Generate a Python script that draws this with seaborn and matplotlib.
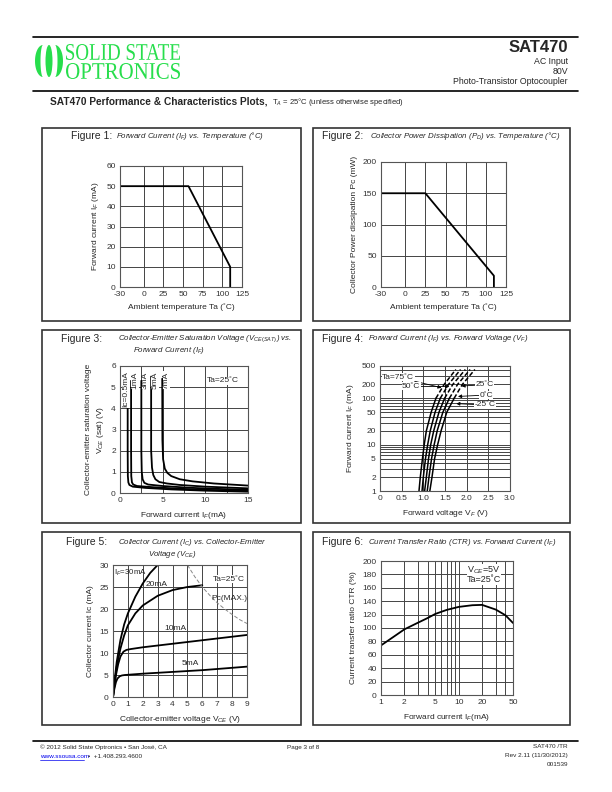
import numpy as np
import pandas as pd
import seaborn as sns
import matplotlib.pyplot as plt
from matplotlib.patches import Rectangle, Polygon, PathPatch, Ellipse
from matplotlib.textpath import TextPath
from matplotlib.font_manager import FontProperties
from matplotlib.transforms import Affine2D
from matplotlib.ticker import NullFormatter, LogLocator, MultipleLocator

W, H = 612, 792
GREEN = "#27DE4C"

# ---------------- data ----------------
# Figure 1: forward current derating
fig1_temp = [-30, 57, 110, 110]
fig1_if = [50, 50, 10, 0]

# Figure 2: collector power dissipation derating
fig2_temp = [-30, 25, 110, 110]
fig2_pc = [150, 150, 18, 0]

# Figure 3: Vce(sat) vs forward current, one curve per collector current
fig3_labels = ["Ic=0.5mA", "1mA", "3mA", "5mA", "7mA"]
fig3_if = [
    [0.9, 0.9, 0.92, 0.98, 1.1, 1.5, 3, 6, 10, 15],
    [1.3, 1.3, 1.32, 1.4, 1.55, 2, 4, 7, 10, 15],
    [2.5, 2.5, 2.55, 2.65, 2.85, 3.3, 5, 8, 11, 15],
    [3.65, 3.65, 3.75, 3.9, 4.15, 4.6, 5.5, 7, 10, 15],
    [4.95, 4.97, 5.05, 5.25, 5.55, 6, 7, 8.5, 11, 15],
]
fig3_vce = [
    [5.3, 2, 0.8, 0.5, 0.38, 0.3, 0.24, 0.17, 0.11, 0.06],
    [5.3, 2, 0.8, 0.5, 0.4, 0.33, 0.27, 0.2, 0.15, 0.1],
    [5.3, 2, 1.0, 0.65, 0.48, 0.4, 0.33, 0.25, 0.2, 0.15],
    [5.5, 2, 1.2, 0.85, 0.65, 0.52, 0.45, 0.38, 0.3, 0.22],
    [5.4, 2.5, 1.6, 1.15, 0.95, 0.8, 0.65, 0.55, 0.45, 0.35],
]
fig3_label_x = [0.7, 1.75, 3.0, 4.15, 5.45]

# Figure 4: forward current vs forward voltage, per ambient temperature
fig4_if = [1, 2, 5, 10, 20, 50, 100, 200, 420]
fig4_vf = {
    "75": [0.90, 0.93, 0.98, 1.02, 1.07, 1.18, 1.29, 1.48, 1.75],
    "50": [0.97, 1.00, 1.05, 1.10, 1.16, 1.27, 1.39, 1.58, 1.86],
    "25": [1.03, 1.07, 1.12, 1.17, 1.24, 1.36, 1.49, 1.68, 1.97],
    "0": [1.09, 1.13, 1.19, 1.25, 1.32, 1.45, 1.60, 1.79, 2.08],
    "-25": [1.15, 1.20, 1.26, 1.33, 1.41, 1.54, 1.71, 1.90, 2.19],
}
fig4_solid_n = 7  # points up to 100 mA are drawn solid, the rest dashed

# Figure 5: collector current vs collector-emitter voltage
fig5_curves = {
    "30mA": ([0, 0.1, 0.25, 0.5, 0.75, 1.0, 1.5, 2.0, 2.5, 3.0],
             [0, 3.5, 8, 13, 16.5, 19, 22.8, 25.8, 28.2, 30]),
    "20mA": ([0, 0.1, 0.25, 0.5, 0.75, 1.0, 1.5, 2.0, 3.0, 4.0, 5.0, 6.0],
             [0, 3, 7, 11, 14, 16.3, 19, 20.8, 23, 24.3, 25, 25.4]),
    "10mA": ([0, 0.1, 0.2, 0.35, 0.5, 0.7, 0.9, 1.2, 2, 3, 5, 7, 9],
             [0, 2.5, 5, 7.5, 9.2, 10.3, 10.7, 10.9, 11.3, 11.7, 12.5, 13.3, 14.1]),
    "5mA": ([0, 0.1, 0.2, 0.3, 0.45, 0.6, 0.8, 1.0, 2, 4, 6, 9],
            [0, 2, 3.4, 4.2, 4.7, 4.9, 5.0, 5.05, 5.3, 5.7, 6.1, 6.9]),
}
fig5_pcmax_v = [5, 5.5, 6, 6.5, 7, 7.5, 8, 8.5, 9]
fig5_pcmax_ic = [30, 27.3, 25, 23.1, 21.4, 20, 18.75, 17.6, 16.7]

# Figure 6: CTR vs forward current
fig6_if = [1, 1.5, 2, 3, 4, 5, 7, 10, 15, 20, 30, 40, 50]
fig6_ctr = [74, 88, 98, 108, 115, 121, 127, 131.5, 134, 134.5, 127.5, 119, 107.5]

# ---------------- page setup ----------------
sns.set_style("white")
plt.rcParams["font.family"] = ["Liberation Sans", "DejaVu Sans"]
plt.rcParams["axes.unicode_minus"] = False
plt.rcParams["mathtext.fontset"] = "custom"
plt.rcParams["mathtext.rm"] = "Liberation Sans"
plt.rcParams["mathtext.it"] = "Liberation Sans:italic"
plt.rcParams["mathtext.bf"] = "Liberation Sans:bold"

fig = plt.figure(figsize=(6.12, 7.92), dpi=100)
page = fig.add_axes([0, 0, 1, 1], zorder=0)
page.set_xlim(0, W)
page.set_ylim(H, 0)
page.axis("off")


def px_axes(x0, y0, x1, y1):
    ax = fig.add_axes([x0 / W, 1 - y1 / H, (x1 - x0) / W, (y1 - y0) / H], zorder=2)
    ax.tick_params(length=0, labelsize=6, pad=3, colors="#333")
    for s in ax.spines.values():
        s.set_color("#555")
        s.set_linewidth(0.8)
    ax.grid(True, which="both", color="#444", lw=0.7)
    ax.set_axisbelow(True)
    return ax


def line(ax, x, y, **kw):
    opts = dict(color="black", lw=1.3, sort=False, estimator=None, ax=ax)
    opts.update(kw)
    sns.lineplot(x=x, y=y, **opts)


# header
page.plot([33, 578], [37, 37], color="black", lw=1.2)
page.plot([33, 578], [91, 91], color="black", lw=1.2)


def crescent(cx, cy, rx_out, rx_in, ry, side):
    t = np.linspace(-np.pi / 2, np.pi / 2, 40)
    outer = np.c_[cx + side * rx_out * np.cos(t), cy + ry * np.sin(t)]
    inner = np.c_[cx + side * rx_in * np.cos(t[::-1]), cy + ry * np.sin(t[::-1])]
    page.add_patch(Polygon(np.r_[outer, inner], fc=GREEN, ec="none"))


crescent(43, 61, 8, 2.5, 16, -1)
page.add_patch(Ellipse((49, 61), 7, 32, fc=GREEN, ec="none"))
crescent(55, 61, 8, 2.5, 16, 1)


def logo_text(s, x0, x1, ytop, ybot):
    tp = TextPath((0, 0), s, size=10, prop=FontProperties(family="Liberation Serif"))
    ext = tp.get_extents()
    tr = (Affine2D().translate(-ext.x0, -ext.y0)
          .scale((x1 - x0) / ext.width, -(ybot - ytop) / ext.height)
          .translate(x0, ybot))
    page.add_patch(PathPatch(tr.transform_path(tp), fc=GREEN, ec="none"))


logo_text("SOLID STATE", 66, 180, 44, 60)
logo_text("OPTRONICS", 66, 180, 63, 79)

page.text(568, 47, "SAT470", fontsize=12, fontweight="bold", ha="right", va="center")
page.text(568, 61, "AC Input", fontsize=6.3, ha="right", va="center")
page.text(568, 71, "80V", fontsize=6.3, ha="right", va="center")
page.text(568, 81, "Photo-Transistor Optocoupler", fontsize=6.3, ha="right", va="center")
page.text(50, 102, "SAT470 Performance & Characteristics Plots,", fontsize=7.3,
          fontweight="bold", ha="left", va="center")
page.text(272, 102.5, "T$_A$ = 25°C (unless otherwise specified)", fontsize=5.5,
          ha="left", va="center")

# panel frames
for bx, by in [(42, 128), (313, 128), (42, 330), (313, 330), (42, 532), (313, 532)]:
    page.add_patch(Rectangle((bx, by), 259 if bx < 300 else 257, 193,
                             fc="none", ec="#333", lw=1.2))


def panel_title(x, y, num, sub, sub_x, second=None, second_x=None):
    page.text(x, y, f"Figure {num}:", fontsize=7.5, ha="left", va="center")
    page.text(sub_x, y, sub, fontsize=5.7, style="italic", ha="left", va="center")
    if second:
        page.text(second_x, y + 12, second, fontsize=5.7, style="italic",
                  ha="left", va="center")


panel_title(71, 136, 1, "Forward Current (I$_F$) vs. Temperature (°C)", 116)
panel_title(322, 136, 2, "Collector Power Dissipation (P$_D$) vs. Temperature (°C)", 370)
panel_title(61, 339, 3, "Collector-Emitter Saturation Voltage (V$_{CE(SAT)}$) vs.", 118,
            "Forward Current (I$_F$)", 133)
panel_title(322, 339, 4, "Forward Current (I$_F$) vs. Forward Voltage (V$_F$)", 368)
panel_title(66, 542, 5, "Collector Current (I$_C$) vs. Collector-Emitter", 118,
            "Voltage (V$_{CE}$)", 148)
panel_title(322, 542, 6, "Current Transfer Ratio (CTR) vs. Forward Current (I$_F$)", 368)

# ---------------- Figure 1 ----------------
ax1 = px_axes(120, 166, 242, 287)
line(ax1, fig1_temp, fig1_if)
ax1.set_xlim(-30, 125)
ax1.set_ylim(0, 60)
ax1.set_xticks([-30, 0, 25, 50, 75, 100, 125])
ax1.set_yticks(range(0, 61, 10))
ax1.set_xlabel("Ambient temperature Ta (˚C)", fontsize=6, labelpad=4)
ax1.set_ylabel("Forward current I$_F$ (mA)", fontsize=6, labelpad=4)

# ---------------- Figure 2 ----------------
ax2 = px_axes(381, 162, 506, 287)
line(ax2, fig2_temp, fig2_pc)
ax2.set_xlim(-30, 125)
ax2.set_ylim(0, 200)
ax2.set_xticks([-30, 0, 25, 50, 75, 100, 125])
ax2.set_yticks(range(0, 201, 50))
ax2.set_xlabel("Ambient temperature Ta (˚C)", fontsize=6, labelpad=4)
ax2.set_ylabel("Collector Power dissipation Pc (mW)", fontsize=6, labelpad=3)

# ---------------- Figure 3 ----------------
ax3 = px_axes(120, 366, 248, 493)
for xs, ys in zip(fig3_if, fig3_vce):
    line(ax3, xs, ys)
ax3.set_xlim(0, 15)
ax3.set_ylim(0, 6)
ax3.set_xticks([0, 5, 10, 15])
ax3.xaxis.set_minor_locator(MultipleLocator(2.5))
ax3.set_yticks(range(0, 7))
for lab, lx in zip(fig3_labels, fig3_label_x):
    ax3.text(lx, 5.75, lab, rotation=90, fontsize=6, ha="center", va="top",
             bbox=dict(fc="white", ec="none", pad=0.3))
ax3.text(13.9, 5.3, "Ta=25˚C", fontsize=6, ha="right", va="center",
         bbox=dict(fc="white", ec="none", pad=0.5))
ax3.set_xlabel("Forward current I$_F$(mA)", fontsize=6, labelpad=4)
ax3.set_ylabel("Collector-emitter saturation voltage\nV$_{CE}$ (sat) (V)", fontsize=6,
               labelpad=4, linespacing=1.3)

# ---------------- Figure 4 ----------------
ax4 = px_axes(380, 366, 510, 491)
ax4.set_yscale("log")
for temp, vf in fig4_vf.items():
    line(ax4, vf[:fig4_solid_n], fig4_if[:fig4_solid_n], lw=1.1)
    line(ax4, vf[fig4_solid_n - 1:], fig4_if[fig4_solid_n - 1:], lw=1.1,
         linestyle=(0, (3, 1.5)))
ax4.set_xlim(0, 3)
ax4.set_ylim(1, 500)
ax4.set_xticks(np.arange(0, 3.01, 0.5))
ax4.set_xticklabels(["0", "0.5", "1.0", "1.5", "2.0", "2.5", "3.0"])
ax4.set_yticks([1, 2, 5, 10, 20, 50, 100, 200, 500])
ax4.set_yticklabels(["1", "2", "5", "10", "20", "50", "100", "200", "500"])
ax4.yaxis.set_minor_locator(LogLocator(base=10, subs=np.arange(2, 10)))
ax4.yaxis.set_minor_formatter(NullFormatter())
ax4.grid(True, which="minor", axis="y", color="#444", lw=0.7)
arrow = dict(arrowstyle="-|>", color="black", lw=0.6, mutation_scale=5, shrinkA=0, shrinkB=0)
tbox = dict(fc="white", ec="none", pad=0.3)
ax4.annotate("Ta=75˚C", xy=(1.42, 170), xytext=(0.42, 285), fontsize=6, ha="center",
             va="center", bbox=tbox, arrowprops=arrow)
ax4.annotate("50˚C", xy=(1.6, 180), xytext=(0.72, 182), fontsize=6, ha="center",
             va="center", bbox=tbox, arrowprops=arrow)
ax4.annotate("25˚C", xy=(1.88, 185), xytext=(2.42, 197), fontsize=6, ha="center",
             va="center", bbox=tbox, arrowprops=arrow)
ax4.annotate("0˚C", xy=(1.8, 110), xytext=(2.45, 118), fontsize=6, ha="center",
             va="center", bbox=tbox, arrowprops=arrow)
ax4.annotate("-25˚C", xy=(1.76, 77), xytext=(2.42, 72), fontsize=6, ha="center",
             va="center", bbox=tbox, arrowprops=arrow)
ax4.set_xlabel("Forward voltage V$_F$ (V)", fontsize=6, labelpad=4)
ax4.set_ylabel("Forward current I$_F$ (mA)", fontsize=6, labelpad=4)

# ---------------- Figure 5 ----------------
ax5 = px_axes(113, 565, 247, 697)
for name, (vs, ics) in fig5_curves.items():
    line(ax5, vs, ics)
line(ax5, fig5_pcmax_v, fig5_pcmax_ic, color="#888", lw=0.7, linestyle=(0, (4, 2)))
ax5.set_xlim(0, 9)
ax5.set_ylim(0, 30)
ax5.set_xticks(range(0, 10))
ax5.set_yticks(range(0, 31, 5))
ax5.text(0.1, 28.3, "I$_F$=30mA", fontsize=5.7, ha="left", va="center")
ax5.text(2.9, 25.6, "20mA", fontsize=6, ha="center", va="center")
ax5.text(7.8, 26.8, "Ta=25˚C", fontsize=6, ha="center", va="center",
         bbox=dict(fc="white", ec="none", pad=0.5))
ax5.text(7.8, 22.5, "Pc(MAX.)", fontsize=6, ha="center", va="center")
ax5.text(4.2, 15.6, "10mA", fontsize=6, ha="center", va="center")
ax5.text(5.2, 7.6, "5mA", fontsize=6, ha="center", va="center")
ax5.set_xlabel("Collector-emitter voltage V$_{CE}$ (V)", fontsize=6, labelpad=4)
ax5.set_ylabel("Collector current Ic (mA)", fontsize=6, labelpad=4)

# ---------------- Figure 6 ----------------
ax6 = px_axes(381, 561, 513, 695)
ax6.set_xscale("log")
line(ax6, fig6_if, fig6_ctr)
ax6.set_xlim(1, 50)
ax6.set_ylim(0, 200)
ax6.set_xticks([1, 2, 5, 10, 20, 50])
ax6.set_xticklabels(["1", "2", "5", "10", "20", "50"])
ax6.xaxis.set_minor_locator(LogLocator(base=10, subs=np.arange(2, 10)))
ax6.xaxis.set_minor_formatter(NullFormatter())
ax6.set_yticks(range(0, 201, 20))
ax6.text(21, 186, "V$_{CE}$=5V", fontsize=6.5, ha="center", va="center",
         bbox=dict(fc="white", ec="none", pad=0.3))
ax6.text(21, 172, "Ta=25˚C", fontsize=6.5, ha="center", va="center",
         bbox=dict(fc="white", ec="none", pad=0.3))
ax6.set_xlabel("Forward current I$_F$(mA)", fontsize=6, labelpad=4)
ax6.set_ylabel("Current transfer ratio CTR (%)", fontsize=6, labelpad=4)

# ---------------- footer ----------------
page.plot([33, 578], [741, 741], color="black", lw=1.2)
page.text(40, 747, "© 2012 Solid State Optronics • San José, CA", fontsize=4.6,
          ha="left", va="center")
page.text(40, 756, "www.ssousa.com", fontsize=4.6, color="#0000EE", ha="left", va="center")
page.plot([40, 84], [759.5, 759.5], color="#0000EE", lw=0.5)
page.text(88, 756, "•  +1.408.293.4600", fontsize=4.6, ha="left", va="center")
page.text(303, 747, "Page 3 of 8", fontsize=4.6, ha="center", va="center")
page.text(568, 747, "SAT470 /TR", fontsize=4.6, ha="right", va="center")
page.text(568, 756, "Rev 2.11 (11/30/2012)", fontsize=4.6, ha="right", va="center")
page.text(568, 765, "001539", fontsize=4.6, ha="right", va="center")

fig.savefig("out.png", dpi=100)
